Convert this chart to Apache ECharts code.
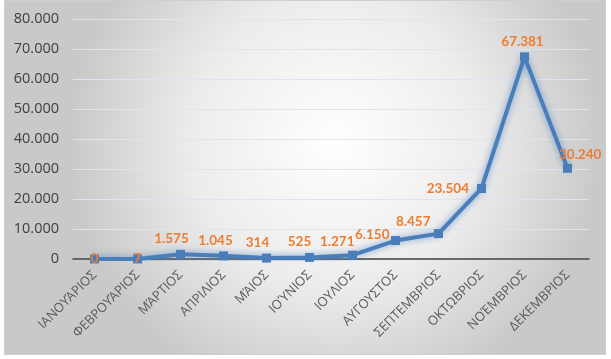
<!DOCTYPE html>
<html><head><meta charset="utf-8">
<script src="https://cdn.jsdelivr.net/npm/echarts@6/dist/echarts.min.js"></script>
<style>
html,body{margin:0;padding:0;background:#fff;width:611px;height:359px;overflow:hidden}
#c{position:absolute;left:4px;top:0;width:602px;height:355px;border:1px solid #cfcfcf;box-sizing:border-box}
</style></head><body>
<div id="c"></div>
<script>
const categories = ['ΙΑΝΟΥΆΡΙΟΣ','ΦΕΒΡΟΥΆΡΙΟΣ','ΜΆΡΤΙΟΣ','ΑΠΡΙΛΙΟΣ','ΜΆΙΟΣ','ΙΟΎΝΙΟΣ','ΙΟΥΛΙΟΣ','ΑΥΓΟΥΣΤΟΣ','ΣΕΠΤΕΜΒΡΙΟΣ','ΟΚΤΩΒΡΙΟΣ','ΝΟΈΜΒΡΙΟΣ','ΔΕΚΕΜΒΡΙΟΣ'];
const values = [0, 7, 1575, 1045, 314, 525, 1271, 6150, 8457, 23504, 67381, 30240];

// label placement styling (per point)
const labelStyles = [
  {position:'inside'},
  {position:'inside'},
  {position:'top', offset:[-9,0]},
  {position:'top', offset:[-8,0]},
  {position:'top', offset:[-9,0]},
  {position:'top', offset:[-10,0]},
  {position:[-28,-16]},
  {position:[-36,-8]},
  {position:[-38,-14]},
  {position:'left', distance:8},
  {position:'top', offset:[-2,0]},
  {position:[-4,-16]}
];

function fmt(v){ return String(v).replace(/\B(?=(\d{3})+(?!\d))/g,'.'); }

const chart = echarts.init(document.getElementById('c'));
chart.setOption({
  backgroundColor: {
    type:'radial', x:0.55, y:0.4, r:0.75,
    colorStops:[{offset:0,color:'#ffffff'},{offset:0.55,color:'#ececec'},{offset:1,color:'#c9c9c9'}]
  },
  grid:{left:68,right:16,top:18,bottom:95},
  xAxis:{
    type:'category', data:categories, boundaryGap:true,
    axisLine:{lineStyle:{color:'#404040',width:1.5}},
    axisTick:{show:false},
    axisLabel:{rotate:45,color:'#595959',fontSize:13,fontFamily:'Open Sans',margin:14,interval:0}
  },
  yAxis:{
    type:'value', min:0, max:80000, interval:10000,
    axisLine:{show:false}, axisTick:{show:false},
    axisLabel:{color:'#404040',fontSize:14.5,fontFamily:'Open Sans',margin:14,formatter:v=>fmt(v)},
    splitLine:{lineStyle:{color:'#dce6f2',width:1}}
  },
  series:[{
    type:'line', data:values.map((v,i)=>({value:v,label:labelStyles[i]})),
    symbol:'rect', symbolSize:9,
    itemStyle:{color:'#4a7ebb'},
    lineStyle:{color:'#4a7ebb',width:4,shadowBlur:7,shadowColor:'rgba(74,126,187,0.75)'},
    label:{show:true,color:'#ed7d31',fontWeight:'bold',fontSize:13.5,fontFamily:'Lato',formatter:p=>fmt(p.value),distance:4},
    z:3
  }]
});
</script></body></html>
